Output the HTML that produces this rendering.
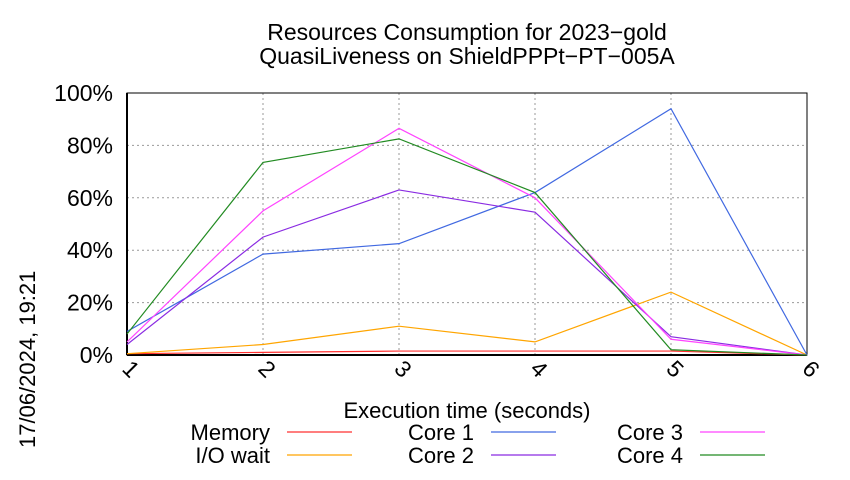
<!DOCTYPE html>
<html><head><meta charset="utf-8"><style>
body{margin:0;background:#fff;}
svg text{font-family:"Liberation Sans",sans-serif;fill:#000;}
</style></head><body>
<svg width="850" height="475" xmlns="http://www.w3.org/2000/svg">
<rect width="850" height="475" fill="#fff"/>
<g id="grid"></g>
<g id="axes"></g>
<g id="series"></g>
<g id="legend"></g>
<text x="467" y="40" font-size="23" text-anchor="middle">Resources Consumption for 2023−gold</text>
<text x="467" y="64" font-size="23" text-anchor="middle">QuasiLiveness on ShieldPPPt−PT−005A</text>
<text x="467" y="418" font-size="22" text-anchor="middle">Execution time (seconds)</text>
<text transform="translate(35,448) rotate(-90)" font-size="22">17/06/2024, 19:21</text>
</svg>
<script>
const xCats=[1,2,3,4,5,6];
const yTicks=[0,20,40,60,80,100];
const seriesNames=["Memory","I/O wait","Core 1","Core 2","Core 3","Core 4"];
const memory=[0.5,1,1.5,1.5,1.5,0];
const ioWait=[0.5,4,11,5,24,0];
const core1=[9,38.5,42.5,62,94,0];
const core2=[4,45,63,54.5,7,0];
const core3=[5,55,86.5,60,6,0];
const core4=[8,73.5,82.5,62,2,0];
const colors=["#ff3030","#ffa500","#4169e1","#8a2be2","#ff44ff","#228b22"];
const allSeries=[memory,ioWait,core1,core2,core3,core4];
const NS="http://www.w3.org/2000/svg";
const L=127,R=807,T=93,B=355;
const xs=v=>L+(v-1)*(R-L)/5;
const ys=v=>B-v*(B-T)/100;
function mk(tag,attrs,parent){const e=document.createElementNS(NS,tag);for(const k in attrs)e.setAttribute(k,attrs[k]);parent.appendChild(e);return e;}
const grid=document.getElementById('grid'),axes=document.getElementById('axes'),ser=document.getElementById('series'),leg=document.getElementById('legend');
yTicks.forEach(t=>{
  const g=mk('line',{x1:L,x2:R,y1:ys(t),y2:ys(t),stroke:'#999','stroke-dasharray':'2,3','stroke-width':1},grid);
  
  
  const tx=mk('text',{x:L-14,y:ys(t)+8,'font-size':23,'text-anchor':'end'},axes);
  tx.textContent=t+'%';
  
  
});
xCats.forEach(c=>{
  const g=mk('line',{x1:xs(c),x2:xs(c),y1:T,y2:B,stroke:'#999','stroke-dasharray':'2,3','stroke-width':1},grid);
  
  
  const tx=mk('text',{transform:`translate(${xs(c)-6},${B+15}) rotate(45)`,'font-size':23},axes);
  tx.textContent=c;
  
  
});
const fr=mk('rect',{x:L,y:T,width:R-L,height:B-T,fill:'none',stroke:'#000','stroke-width':1},axes);


mk('line',{x1:L,x2:L,y1:T,y2:B,stroke:'#000','stroke-width':2},axes);
mk('line',{x1:L,x2:R,y1:B,y2:B,stroke:'#000','stroke-width':2},axes);
allSeries.forEach((d,i)=>{
  const p=mk('polyline',{points:d.map((v,j)=>xs(xCats[j])+','+ys(v)).join(' '),fill:'none',stroke:colors[i],'stroke-width':1.2},ser);
  
  
});
const legX=[270,474,683],legY=[432,455];
seriesNames.forEach((n,i)=>{
  const col=Math.floor(i/2),row=i%2;
  const tx=mk('text',{x:legX[col],y:legY[row]+8,'font-size':22,'text-anchor':'end'},leg);
  tx.textContent=n;
  
  
  const ln=mk('line',{x1:legX[col]+17,x2:legX[col]+82,y1:legY[row],y2:legY[row],stroke:colors[i],'stroke-width':1.2},leg);
  
  
});
</script>
</body></html>
